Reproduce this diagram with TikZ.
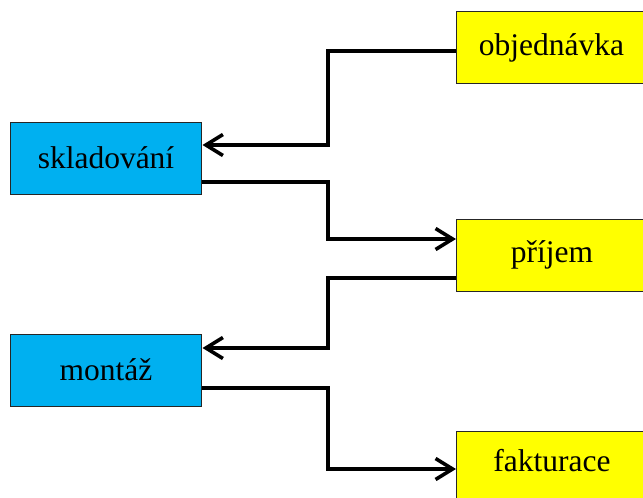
\documentclass[tikz,border=0pt]{standalone}
\usepackage{fontspec}
\setmainfont{Liberation Serif}
\usetikzlibrary{arrows.meta}
\definecolor{boxblue}{HTML}{00B0F0}
\definecolor{boxyellow}{HTML}{FFFF00}
\begin{document}
\begin{tikzpicture}[x=1pt,y=-1pt,
  box/.style={draw=black!85,line width=0.8pt,minimum width=191pt,minimum height=72pt,inner sep=0pt,
    font=\fontsize{31.5}{36}\selectfont},
  bluebox/.style={box,fill=boxblue},
  yelbox/.style={box,fill=boxyellow},
  conn/.style={line width=3.6pt,line join=miter,-{Straight Barb[length=17pt,width=21pt,line width=3.6pt]}}]
\useasboundingbox (0,0) rectangle (643,498);
\clip (0,0) rectangle (643,498);
\node[yelbox] (obj) at (551.5,47.5) {objednávka};
\node[bluebox] (skl) at (106,158) {skladování};
\node[yelbox] (pri) at (552,255) {příjem};
\node[bluebox] (mon) at (106,370) {montáž};
\node[yelbox,minimum height=80pt,text height=24pt,text depth=24pt] (fak) at (552,471) {fakturace};
% obj -> skl
\coordinate (a1) at (456,51);
\coordinate (a2) at (328,145);
\coordinate (a3) at (202.5,145);
\draw[conn] (a1) -| (a2) -- (a3);
% skl -> pri
\coordinate (b1) at (202,182);
\coordinate (b2) at (328,239);
\coordinate (b3) at (456,239);
\draw[conn] (b1) -| (b2) -- (b3);
% pri -> mon
\coordinate (c1) at (456,278);
\coordinate (c2) at (328,348);
\coordinate (c3) at (202.5,348);
\draw[conn] (c1) -| (c2) -- (c3);
% mon -> fak
\coordinate (d1) at (202,388);
\coordinate (d2) at (328,469);
\coordinate (d3) at (456,469);
\draw[conn] (d1) -| (d2) -- (d3);
\end{tikzpicture}
\end{document}
